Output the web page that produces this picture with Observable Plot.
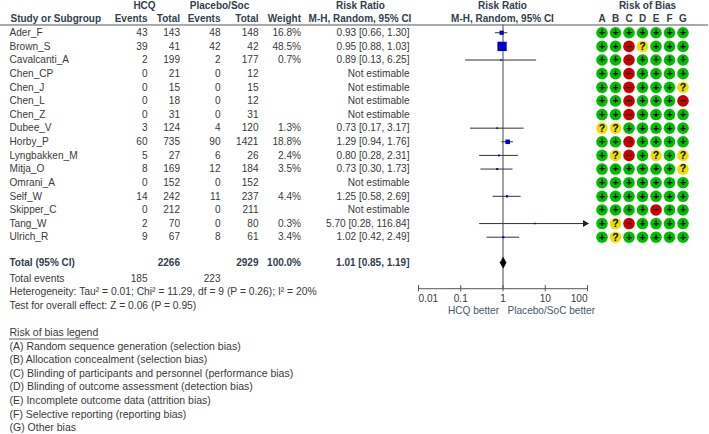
<!DOCTYPE html>
<html><head><meta charset="utf-8">
<script src="https://cdn.jsdelivr.net/npm/d3@7"></script>
<script src="https://cdn.jsdelivr.net/npm/@observablehq/plot@0.6"></script>
<style>html,body{margin:0;padding:0;background:#fff}svg{display:block}</style>
</head><body><div id="chart"></div>
<script>
// ---- data ----
const studies = ["Ader_F","Brown_S","Cavalcanti_A","Chen_CP","Chen_J","Chen_L","Chen_Z","Dubee_V","Horby_P","Lyngbakken_M","Mitja_O","Omrani_A","Self_W","Skipper_C","Tang_W","Ulrich_R"];
const hcqEvents = [43,39,2,0,0,0,0,3,60,5,8,0,14,0,2,9];
const hcqTotal = [143,41,199,21,15,18,31,124,735,27,169,152,242,212,70,67];
const pboEvents = [48,42,2,0,0,0,0,4,90,6,12,0,11,0,0,8];
const pboTotal = [148,42,177,12,15,12,31,120,1421,26,184,152,237,211,80,61];
const weights = [16.8,48.5,0.7,null,null,null,null,1.3,18.8,2.4,3.5,null,4.4,null,0.3,3.4];
const rr = [0.93,0.95,0.89,null,null,null,null,0.73,1.29,0.80,0.73,null,1.25,null,5.70,1.02];
const rrLow = [0.66,0.88,0.13,null,null,null,null,0.17,0.94,0.28,0.30,null,0.58,null,0.28,0.42];
const rrHigh = [1.30,1.03,6.25,null,null,null,null,3.17,1.76,2.31,1.73,null,2.69,null,116.84,2.49];
const biasLetters = ["A","B","C","D","E","F","G"];
const biasRows = ["+++++++","++-?+++","++-++++","++-++++","++-+++?","++-+++-","++-++++","??+++++","++-++++","+?-+?+?","++++++?","+++++++","+++++++","++++-++","+?-++++","+?+++++"];
const overall = {rr:1.01, low:0.85, high:1.19};
const xTicks = [0.01,0.1,1,10,100];
const footLines = ["Heterogeneity: Tau² = 0.01; Chi² = 11.29, df = 9 (P = 0.26); I² = 20%","Test for overall effect: Z = 0.06 (P = 0.95)"];
const legendTitle = "Risk of bias legend";
const legendLines = ["(A) Random sequence generation (selection bias)","(B) Allocation concealment (selection bias)","(C) Blinding of participants and personnel (performance bias)","(D) Blinding of outcome assessment (detection bias)","(E) Incomplete outcome data (attrition bias)","(F) Selective reporting (reporting bias)","(G) Other bias"];

// ---- layout: the table columns sit on the same log x scale as the forest plot ----
const at = p => Math.pow(10, (p - 502.5) / 42.25);
const col = {study:9, hE:147, hT:179.5, pE:220, pT:258, w:300.5, rr:409};
const biasAt = {A:601.5,B:615,C:628.5,D:642,E:655.5,F:669,G:682.5};
const firstRow = 2, totalRow = 18.87, eventsRow = 20.03, footRow = 21, legendRow = 24;
const ink = "#3a3a3a", head = "#33404d";
const fs = 10.1, fsFoot = 10.3, fsLegend = 10.5, fsHead = 10;
const fmt = v => v.toFixed(2);

const rows = studies.map((s,i)=>({s,i,row:firstRow+i,hE:String(hcqEvents[i]),hT:String(hcqTotal[i]),pE:String(pboEvents[i]),pT:String(pboTotal[i]),
  w:weights[i],rr:rr[i],lo:rrLow[i],hi:rrHigh[i],
  rrText: rr[i]==null ? "Not estimable" : `${fmt(rr[i])} [${fmt(rrLow[i])}, ${fmt(rrHigh[i])}]`,
  wText: weights[i]==null ? "" : weights[i].toFixed(1)+"%"}));
const est = rows.filter(d=>d.rr!=null);
const bias = rows.flatMap(d=>biasLetters.map((l,j)=>({row:d.row,letter:l,v:biasRows[d.i][j]})));

const txt = (data,px,o={}) => Plot.text(data,{x:()=>at(px),fontSize:fs,fill:ink,textAnchor:"end",...o});
const hdr = (t,px,row,anchor="middle") => Plot.text([t],{x:()=>at(px),y:()=>row,text:d=>d,fontSize:fsHead,fontWeight:"bold",fill:head,textAnchor:anchor});
const plain = (t,row,size=fsFoot) => Plot.text([t],{x:()=>at(col.study),y:()=>row,text:d=>d,fontSize:size,fill:ink,textAnchor:"start"});
const tickAnchor = d => d===xTicks[0] ? "start" : d===xTicks[xTicks.length-1] ? "end" : "middle";

const chart = Plot.plot({
  width:709,height:434,margin:0,
  style:{fontFamily:"'Liberation Sans',Arial,sans-serif",background:"#fff"},
  x:{type:"log",domain:[0.01,100],range:[418,587],axis:null},
  y:{domain:[0,31],range:[5,427.5],axis:null},
  r:{type:"linear",domain:[0,48.5],range:[0.85,5.25]},
  color:{domain:["+","?","-"],range:["#00bd00","#eedd00","#c80000"]},
  marks:[
    // headers
    hdr("HCQ",144,0),hdr("Placebo/Soc",219,0),hdr("Risk Ratio",360,0),hdr("Risk Ratio",502,0),hdr("Risk of Bias",647,0),
    hdr("Study or Subgroup",10,1,"start"),hdr("Events",col.hE,1,"end"),hdr("Total",col.hT,1,"end"),hdr("Events",col.pE,1,"end"),hdr("Total",col.pT,1,"end"),hdr("Weight",col.w,1,"end"),
    hdr("M-H, Random, 95% CI",359.5,1),hdr("M-H, Random, 95% CI",502,1),
    Plot.text(biasLetters,{x:d=>at(biasAt[d]),y:()=>1,text:d=>d,fontSize:fsHead,fontWeight:"bold",fill:head}),
    Plot.ruleY([1.43],{x1:()=>at(0),x2:()=>at(708),stroke:"#555",strokeWidth:1}),
    // study table
    txt(rows,col.study,{y:"row",text:"s",textAnchor:"start"}),
    txt(rows,col.hE,{y:"row",text:"hE"}),
    txt(rows,col.hT,{y:"row",text:"hT"}),
    txt(rows,col.pE,{y:"row",text:"pE"}),
    txt(rows,col.pT,{y:"row",text:"pT"}),
    txt(rows,col.w,{y:"row",text:"wText"}),
    txt(rows,col.rr,{y:"row",text:"rrText"}),
    // totals
    hdr("Total (95% CI)",col.study,totalRow,"start"),hdr("2266",col.hT,totalRow,"end"),hdr("2929",col.pT,totalRow,"end"),hdr("100.0%",col.w,totalRow,"end"),
    hdr(`${fmt(overall.rr)} [${fmt(overall.low)}, ${fmt(overall.high)}]`,col.rr,totalRow,"end"),
    plain("Total events",eventsRow),
    Plot.text(["185"],{x:()=>at(147),y:()=>eventsRow,text:d=>d,fontSize:fs,fill:ink,textAnchor:"end"}),
    Plot.text(["223"],{x:()=>at(220),y:()=>eventsRow,text:d=>d,fontSize:fs,fill:ink,textAnchor:"end"}),
    plain(footLines[0],footRow),plain(footLines[1],footRow+1),
    // forest
    Plot.ruleX([1],{y1:1.43,y2:20.78,stroke:"#666",strokeWidth:1.2}),
    Plot.ruleY(est,{y:"row",x1:"lo",x2:d=>Math.min(d.hi,100),stroke:"#333",strokeWidth:1}),
    Plot.dot(est.filter(d=>d.hi>100),{x:()=>100,y:"row",symbol:"triangle",rotate:90,r:2.6,fill:"#222",dx:-2.5}),
    Plot.dot(est,{x:"rr",y:"row",symbol:"square",r:"w",fill:"#0000cc",stroke:"none"}),
    Plot.line([[overall.low,totalRow],[overall.rr,totalRow-0.4],[overall.high,totalRow],[overall.rr,totalRow+0.4],[overall.low,totalRow]],
      {x:d=>d[0],y:d=>d[1],fill:"#000",stroke:"#000",strokeWidth:0.5,curve:"linear"}),
    // x axis
    Plot.ruleY([20.78],{x1:()=>0.01,x2:()=>100,stroke:"#555",strokeWidth:1}),
    Plot.ruleX(xTicks,{y1:20.55,y2:21.01,stroke:"#555",strokeWidth:1}),
    Plot.text(xTicks.filter(d=>tickAnchor(d)==="start"),{x:d=>d,y:()=>21.49,text:d=>String(d),fontSize:fs,fill:ink,textAnchor:"start"}),
    Plot.text(xTicks.filter(d=>tickAnchor(d)==="middle"),{x:d=>d,y:()=>21.49,text:d=>String(d),fontSize:fs,fill:ink}),
    Plot.text(xTicks.filter(d=>tickAnchor(d)==="end"),{x:d=>d,y:()=>21.49,text:d=>String(d),fontSize:fs,fill:ink,textAnchor:"end"}),
    Plot.text(["HCQ better"],{x:()=>at(498.5),y:()=>22.4,text:d=>d,fontSize:fs,fill:"#47586a",textAnchor:"end"}),
    Plot.text(["Placebo/SoC better"],{x:()=>at(507),y:()=>22.4,text:d=>d,fontSize:fs,fill:"#47586a",textAnchor:"start"}),
    // risk of bias grid
    Plot.dot(bias,{x:d=>at(biasAt[d.letter]),y:"row",r:5.8,fill:"v",stroke:"none"}),
    Plot.text(bias,{x:d=>at(biasAt[d.letter]),y:"row",text:d=>d.v==="-"?"–":d.v,fontSize:10.5,fontWeight:"bold",fill:"#000"}),
    // legend
    plain(legendTitle,legendRow,fsLegend),
    Plot.ruleY([legendRow+0.47],{x1:()=>at(col.study),x2:()=>at(99),stroke:ink,strokeWidth:0.8}),
    ...legendLines.map((t,i)=>plain(t,legendRow+1+i,fsLegend))
  ]
});
document.getElementById("chart").append(chart);
</script></body></html>
